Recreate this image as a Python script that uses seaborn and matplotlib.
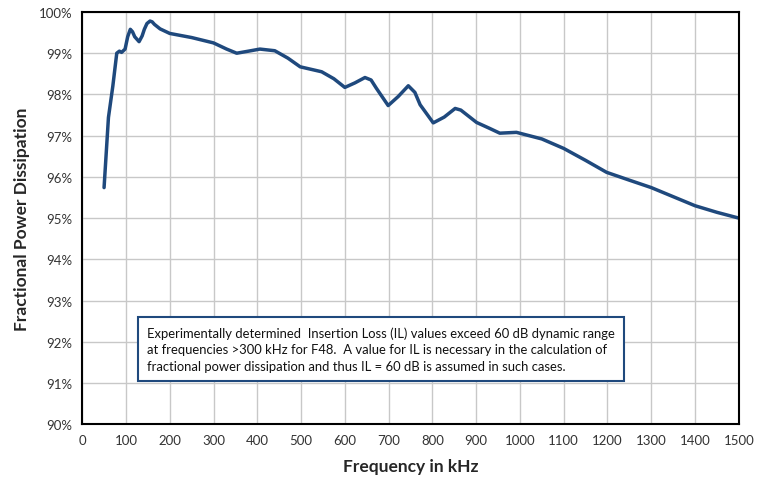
import pandas as pd
import seaborn as sns
import matplotlib
matplotlib.use('Agg')
import matplotlib.pyplot as plt
from matplotlib.ticker import MultipleLocator, FuncFormatter

# values
freq_khz = [50, 60, 70, 79, 85, 90, 98, 104, 110, 115, 120, 130, 137, 142, 148, 155, 160,
            165, 178, 200, 250, 300, 330, 353, 380, 406, 440, 470, 498, 547, 575, 600,
            623, 646, 660, 672, 699, 722, 745, 760, 772, 802, 827, 852, 865, 877, 901,
            930, 954, 992, 1050, 1100, 1150, 1198, 1250, 1300, 1350, 1400, 1450, 1500]
power_pct = [95.74, 97.44, 98.2, 99.0, 99.05, 99.02, 99.1, 99.4, 99.58, 99.52, 99.4,
             99.28, 99.42, 99.58, 99.72, 99.78, 99.76, 99.7, 99.59, 99.48, 99.38, 99.25,
             99.10, 99.0, 99.05, 99.1, 99.06, 98.88, 98.67, 98.55, 98.38, 98.17, 98.28,
             98.41, 98.35, 98.15, 97.73, 97.95, 98.21, 98.05, 97.75, 97.31, 97.45, 97.66,
             97.62, 97.52, 97.32, 97.18, 97.06, 97.08, 96.92, 96.69, 96.40, 96.11, 95.92,
             95.74, 95.52, 95.30, 95.14, 95.0]

note = ("Experimentally determined  Insertion Loss (IL) values exceed 60 dB dynamic range\n"
        "at frequencies >300 kHz for F48.  A value for IL is necessary in the calculation of\n"
        "fractional power dissipation and thus IL = 60 dB is assumed in such cases.")

df = pd.DataFrame({'Frequency': freq_khz, 'Dissipation': power_pct})

sns.set_style('white')
plt.rcParams['font.family'] = ['Lato', 'DejaVu Sans']

fig = plt.figure(figsize=(7.68, 4.81), dpi=100)
ax = fig.add_axes([0.107, 0.116, 0.855, 0.857])

sns.lineplot(data=df, x='Frequency', y='Dissipation', color='#1F497D', linewidth=2.5, ax=ax)

ax.set_xlim(0, 1500)
ax.set_ylim(90, 100)
ax.xaxis.set_major_locator(MultipleLocator(100))
ax.yaxis.set_major_locator(MultipleLocator(1))
ax.yaxis.set_major_formatter(FuncFormatter(lambda v, p: f'{v:.0f}%'))
ax.grid(True, color='#c8c8c8', linewidth=1)
ax.set_axisbelow(True)
for s in ax.spines.values():
    s.set_color('black')
    s.set_linewidth(1.5)
ax.tick_params(axis='both', direction='out', length=4, width=1.2, color='black',
               labelsize=9.5, labelcolor='#333333', pad=3)

ax.set_xlabel('Frequency in kHz', fontsize=12.5, fontweight='bold', labelpad=9)
ax.set_ylabel('Fractional Power Dissipation', fontsize=12.5, fontweight='bold', labelpad=6)

ax.text(0.099, 0.182, note, transform=ax.transAxes, fontsize=9.4, va='center', ha='left',
        linespacing=1.45, color='#111111',
        bbox=dict(boxstyle='square,pad=0.7', facecolor='white', edgecolor='#1F497D', linewidth=1.5))

fig.savefig('out.png', dpi=100)
